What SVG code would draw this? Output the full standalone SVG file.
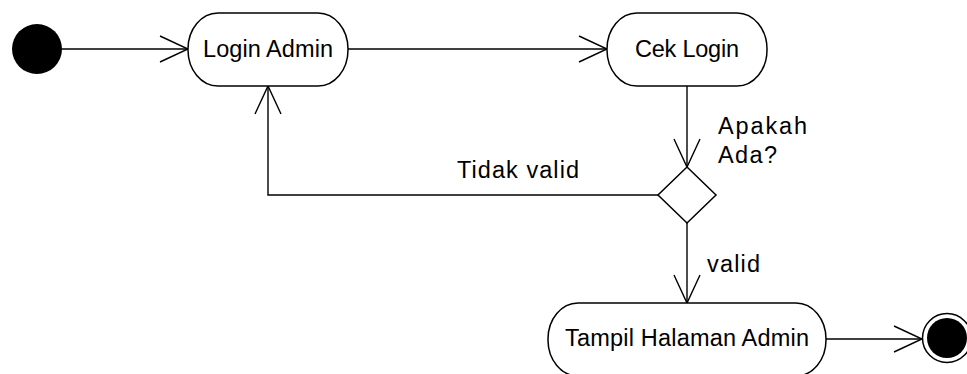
<svg xmlns="http://www.w3.org/2000/svg" width="967" height="374" viewBox="0 0 967 374">
<style>
.node{fill:#fff;stroke:#000;stroke-width:1.5}
.lbl{font-family:"Liberation Sans",Arial,sans-serif;font-size:23.5px;fill:#000}
.edge{fill:none;stroke:#000;stroke-width:1.4}
</style>
<defs>
<marker id="arr" markerUnits="userSpaceOnUse" markerWidth="32" markerHeight="32" refX="29" refY="15" orient="auto">
<path d="M1,2 L29,15 L1,28" fill="none" stroke="#000" stroke-width="1.4"/>
</marker>
</defs>
<g id="edges">
<path class="edge" d="M62,49 H188" marker-end="url(#arr)"/>
<path class="edge" d="M348,49 H607" marker-end="url(#arr)"/>
<path class="edge" d="M687,86 V167" marker-end="url(#arr)"/>
<path class="edge" d="M658,195 H268 V86" marker-end="url(#arr)"/>
<path class="edge" d="M687,223 V303" marker-end="url(#arr)"/>
<path class="edge" d="M826,339 H922" marker-end="url(#arr)"/>
<text class="lbl" x="718" y="134" textLength="89">Apakah</text>
<text class="lbl" x="718" y="163" textLength="59">Ada?</text>
<text class="lbl" x="457" y="178" textLength="122">Tidak valid</text>
<text class="lbl" x="707" y="272" textLength="53">valid</text>
</g>
<g id="start"><circle cx="37" cy="49" r="25" fill="#000"/></g>
<g id="login-admin">
<rect class="node" x="188" y="13" width="160" height="73" rx="30" ry="36"/>
<text class="lbl" x="203" y="57" textLength="130">Login Admin</text>
</g>
<g id="cek-login">
<rect class="node" x="607" y="13" width="160" height="73" rx="30" ry="36"/>
<text class="lbl" x="635" y="57" textLength="104">Cek Login</text>
</g>
<g id="decision">
<path class="node" d="M687,167 L716,195 L687,223 L658,195 Z"/>
</g>
<g id="tampil">
<rect class="node" x="548" y="303" width="278" height="73" rx="30" ry="36"/>
<text class="lbl" x="565" y="346" textLength="244">Tampil Halaman Admin</text>
</g>
<g id="end">
<circle cx="947" cy="338" r="24.5" fill="#fff" stroke="#000" stroke-width="1.5"/>
<circle cx="947" cy="338" r="20" fill="#000"/>
</g>
</svg>
